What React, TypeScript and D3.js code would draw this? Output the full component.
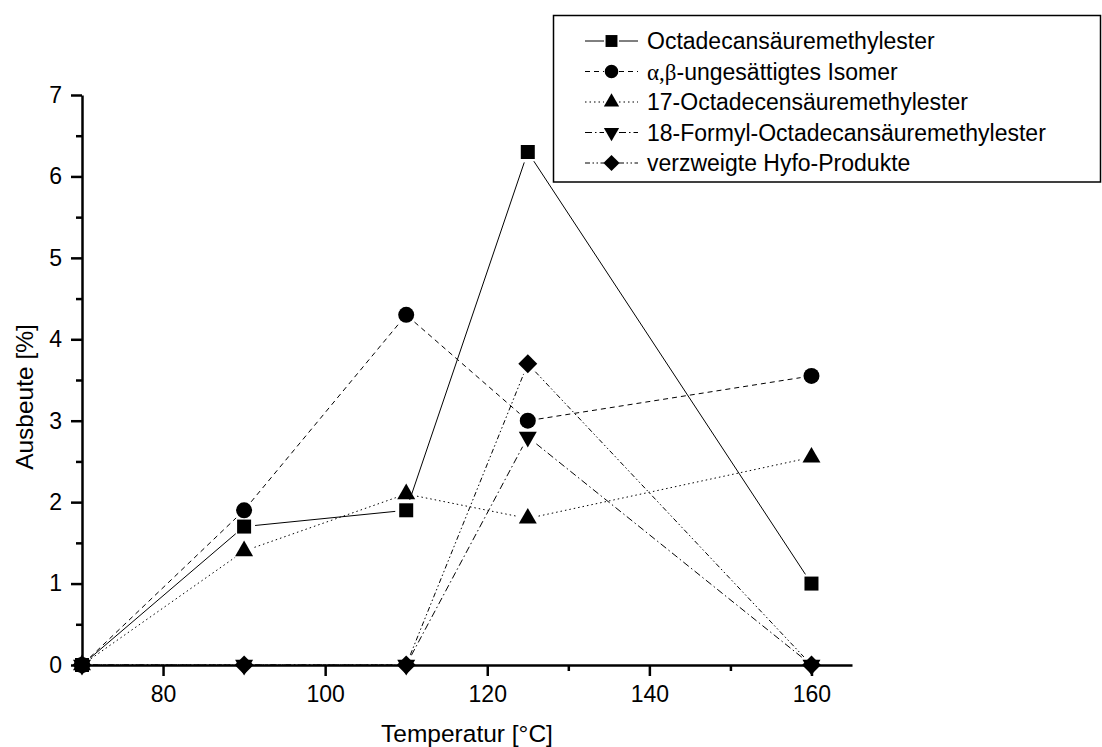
import { useEffect, useRef } from "react";
import * as d3 from "d3";

const temperatures = [70, 90, 110, 125, 160];
const seriesNames = [
  "Octadecansäuremethylester",
  "α,β-ungesättigtes Isomer",
  "17-Octadecensäuremethylester",
  "18-Formyl-Octadecansäuremethylester",
  "verzweigte Hyfo-Produkte",
];
const octadecan = [0, 1.7, 1.9, 6.3, 1.0];
const isomer = [0, 1.9, 4.3, 3.0, 3.55];
const octadecen = [0, 1.4, 2.1, 1.8, 2.55];
const formyl = [0, 0, 0, 2.8, 0];
const hyfo = [0, 0, 0, 3.7, 0];
const xMajorTicks = [80, 100, 120, 140, 160];
const xMinorTicks = [70, 90, 110, 130, 150];
const yMajorTicks = [0, 1, 2, 3, 4, 5, 6, 7];
const yMinorTicks = [0.5, 1.5, 2.5, 3.5, 4.5, 5.5, 6.5];

export default function App() {
  const svgRef = useRef<SVGSVGElement>(null);

  useEffect(() => {
    const width = 1102;
    const height = 747;
    const font = "'Liberation Sans', Arial, sans-serif";

    const x = d3.scaleLinear().domain([70, 165]).range([82, 852]);
    const y = d3.scaleLinear().domain([0, 7]).range([665, 95]);

    const svg = d3.select(svgRef.current)
      .attr("width", width)
      .attr("height", height)
      .attr("viewBox", [0, 0, width, height])
      .style("font-family", font);
    svg.selectAll("*").remove();

    const styles = [
      { values: octadecan, dash: null, symbol: d3.symbolSquare, size: 196, rotate: 0 },
      { values: isomer, dash: "5,4", symbol: d3.symbolCircle, size: 201, rotate: 0 },
      { values: octadecen, dash: "1.5,3", symbol: d3.symbolTriangle, size: 140, rotate: 0 },
      { values: formyl, dash: "7,3,1.5,3", symbol: d3.symbolTriangle, size: 140, rotate: 180 },
      { values: hyfo, dash: "5,2.5,1.5,2.5,1.5,2.5", symbol: d3.symbolSquare, size: 180, rotate: 45 },
    ];

    // lines stop a little short of each marker, as in the original
    const gap = 11;
    const plot = svg.append("g");

    styles.forEach(s => {
      const pts = temperatures.map((t, i) => [x(t), y(s.values[i])]);
      const segs = [];
      for (let i = 0; i < pts.length - 1; i++) {
        const [x1, y1] = pts[i];
        const [x2, y2] = pts[i + 1];
        const len = Math.hypot(x2 - x1, y2 - y1);
        if (len <= 2 * gap) continue;
        const ux = (x2 - x1) / len;
        const uy = (y2 - y1) / len;
        segs.push([x1 + ux * gap, y1 + uy * gap, x2 - ux * gap, y2 - uy * gap]);
      }
      plot.append("g")
        .selectAll("line")
        .data(segs)
        .enter()
        .append("line")
        .attr("x1", d => d[0])
        .attr("y1", d => d[1])
        .attr("x2", d => d[2])
        .attr("y2", d => d[3])
        .attr("stroke", "black")
        .attr("stroke-width", 1)
        .attr("stroke-dasharray", s.dash);
    });

    styles.forEach(s => {
      plot.append("g")
        .selectAll("path")
        .data(temperatures.map((t, i) => [x(t), y(s.values[i])]))
        .enter()
        .append("path")
        .attr("d", d3.symbol(s.symbol, s.size)())
        .attr("transform", d => `translate(${d[0]},${d[1]}) rotate(${s.rotate})`)
        .attr("fill", "black");
    });

    // axes
    const xAxis = svg.append("g")
      .attr("transform", `translate(0,${y(0)})`)
      .call(d3.axisBottom(x).tickValues(xMajorTicks).tickSize(11).tickSizeOuter(0).tickPadding(10));
    svg.append("g")
      .attr("transform", `translate(0,${y(0)})`)
      .call(d3.axisBottom(x).tickValues(xMinorTicks).tickSize(6).tickFormat(() => ""))
      .call(g => g.select(".domain").remove());

    const yAxis = svg.append("g")
      .attr("transform", `translate(${x(70)},0)`)
      .call(d3.axisLeft(y).tickValues(yMajorTicks).tickFormat(d3.format("d")).tickSize(11).tickSizeOuter(0).tickPadding(9));
    svg.append("g")
      .attr("transform", `translate(${x(70)},0)`)
      .call(d3.axisLeft(y).tickValues(yMinorTicks).tickSize(6).tickFormat(() => ""))
      .call(g => g.select(".domain").remove());

    svg.selectAll(".domain, .tick line")
      .style("stroke", "black")
      .style("stroke-width", "2.5px");
    [xAxis, yAxis].forEach(g => g.selectAll("text")
      .attr("font-size", 23)
      .attr("font-family", font)
      .attr("fill", "black"));

    svg.append("text")
      .attr("x", (x.range()[0] + x.range()[1]) / 2)
      .attr("y", 742)
      .attr("text-anchor", "middle")
      .attr("font-size", 24.5)
      .text("Temperatur [°C]");

    svg.append("text")
      .attr("transform", `translate(33,397) rotate(-90)`)
      .attr("text-anchor", "middle")
      .attr("font-size", 24.5)
      .text("Ausbeute [%]");

    // legend
    const legend = svg.append("g");
    legend.append("rect")
      .attr("x", 553.5)
      .attr("y", 15.5)
      .attr("width", 547)
      .attr("height", 166.5)
      .attr("fill", "white")
      .attr("stroke", "black")
      .attr("stroke-width", 1.5);

    const rowY = d3.scaleLinear().domain([0, 4]).range([41, 163]);
    const legendScale = 0.85;
    styles.forEach((s, i) => {
      const cy = rowY(i);
      const row = legend.append("g");
      [[585, 604], [619, 638]].forEach(([a, b]) => {
        row.append("line")
          .attr("x1", a).attr("x2", b)
          .attr("y1", cy).attr("y2", cy)
          .attr("stroke", "black")
          .attr("stroke-width", 1)
          .attr("stroke-dasharray", s.dash);
      });
      row.append("path")
        .attr("d", d3.symbol(s.symbol, s.size * legendScale * legendScale)())
        .attr("transform", `translate(611.5,${cy}) rotate(${s.rotate})`)
        .attr("fill", "black");
      const txt = row.append("text")
        .attr("x", 647)
        .attr("y", cy)
        .attr("dy", "0.36em")
        .attr("font-size", 23);
      if (i === 1) {
        txt.append("tspan")
          .attr("font-family", "'Liberation Serif', 'Times New Roman', serif")
          .text("α,β");
        txt.append("tspan").text("-ungesättigtes Isomer");
      } else {
        txt.text(seriesNames[i]);
      }
    });
  }, []);

  return (
    <svg ref={svgRef} style={{ position: "absolute", left: 0, top: 0 }}></svg>
  );
}
